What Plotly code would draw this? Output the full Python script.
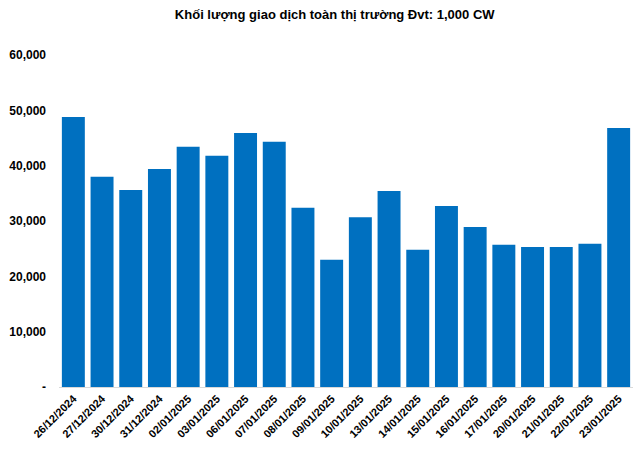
import plotly.graph_objects as go

dates = ["26/12/2024", "27/12/2024", "30/12/2024", "31/12/2024", "02/01/2025", "03/01/2025",
         "06/01/2025", "07/01/2025", "08/01/2025", "09/01/2025", "10/01/2025", "13/01/2025",
         "14/01/2025", "15/01/2025", "16/01/2025", "17/01/2025", "20/01/2025", "21/01/2025",
         "22/01/2025", "23/01/2025"]
volumes = [48800, 38000, 35600, 39400, 43400, 41800, 45900, 44300, 32400, 23000,
           30700, 35400, 24800, 32700, 28900, 25700, 25300, 25300, 25900, 46800]
y_tickvals = [0, 10000, 20000, 30000, 40000, 50000, 60000]
y_ticktext = ["-", "10,000", "20,000", "30,000", "40,000", "50,000", "60,000"]

fig = go.Figure(go.Bar(x=dates, y=volumes, marker=dict(color="#0070C0", line=dict(width=0))))

fig.update_layout(
    width=640, height=450,
    margin=dict(l=59, r=7, t=55, b=63),
    paper_bgcolor="white", plot_bgcolor="white",
    bargap=0.2,
    showlegend=False,
    title=dict(text="<b>Khối lượng giao dịch toàn thị trường Đvt: 1,000 CW</b>",
               x=0.523, xanchor="center", y=0.968, yanchor="middle",
               font=dict(family="Arial, Liberation Sans", size=13, color="black")),
    font=dict(family="Arial, Liberation Sans", color="black"),
)
fig.update_xaxes(
    type="category", tickangle=-45,
    tickfont=dict(size=11, family="Arial, Liberation Sans", weight="bold"),
    showline=True, linecolor="#D9D9D9", linewidth=1,
    ticks="", showgrid=False,
)
fig.update_yaxes(
    range=[0, 60000], tickvals=y_tickvals, ticktext=y_ticktext,
    tickfont=dict(size=12, family="Arial, Liberation Sans", weight="bold"),
    showgrid=False, zeroline=False, showline=False, ticks="",
    ticklabelstandoff=12,
)

fig.write_html("out.html")
